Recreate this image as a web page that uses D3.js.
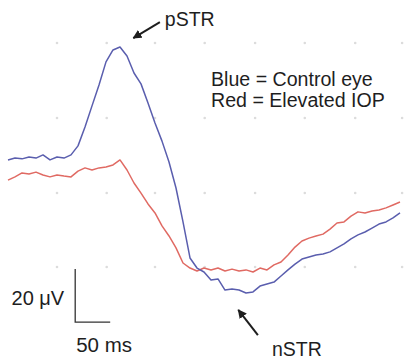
<!DOCTYPE html>
<meta charset="utf-8">
<style>
body { margin: 0; background: #fff; }
text { font-family: "Liberation Sans", Arial, sans-serif; fill: #1e1e1e; }
.trace { fill: none; stroke-width: 1.5px; stroke-linejoin: round; }
</style>
<svg width="407" height="361"></svg>
<script src="https://d3js.org/d3.v7.min.js"></script>
<script>

// time in ms, sampled every 10 ms
var times = d3.range(0, 561, 10);

// STR amplitude in microvolts
var controlEye = [3.8, 4.5, 4.2, 4.9, 4.5, 5.7, 3.8, 4.9, 4.5, 5.7,
  9.1, 16.2, 24.2, 32.1, 40.8, 45.3, 46.4, 43.0, 36.6, 32.5,
  25.3, 17.7, 10.9, 3.0, -6.8, -19.6, -33.2, -37.0, -38.5, -41.5,
  -41.1, -45.3, -44.9, -45.3, -46.4, -46.0, -43.8, -43.0, -42.3, -40.0,
  -37.7, -35.5, -33.6, -32.8, -32.1, -31.7, -30.9, -29.4, -27.9, -26.0,
  -24.5, -23.4, -21.9, -20.4, -19.6, -18.1, -16.2];

var elevatedIOP = [-3.8, -2.6, -1.1, -1.5, -0.8, -1.9, -2.6, -1.9, -2.3, -2.6,
  -0.4, 0.8, 0.0, 0.8, 1.1, 1.9, 3.8, 0.0, -4.9, -8.7,
  -12.8, -16.2, -21.1, -24.9, -29.4, -35.1, -37.0, -38.1, -37.0, -37.7,
  -37.0, -38.1, -37.4, -38.1, -37.7, -38.5, -37.0, -37.7, -35.8, -34.7,
  -32.1, -29.1, -26.8, -25.7, -24.9, -24.2, -22.3, -20.0, -19.6, -17.4,
  -15.8, -16.2, -15.5, -15.1, -14.3, -13.2, -12.1];

var legendLines = ["Blue = Control eye", "Red = Elevated IOP"];

// faint background dot grid (ms, uV)
var gridTimes = [70, 141, 210, 281, 353, 424, 496, 563];
var gridVolts = [47.9, 19.6, -8.7, -36.6];

// scale bar: 50 ms by 20 uV
var scaleBar = {t: 96, v: -57.4, dt: 50, dv: 20};

var svg = d3.select("svg");

var x = d3.scaleLinear().domain([0, 560]).range([8, 400]);
var y = d3.scaleLinear().domain([-80, 60]).range([382, 11]);

var line = d3.line()
    .x(function(d) { return x(d[0]); })
    .y(function(d) { return y(d[1]); });

// grid dots
var dots = [];
gridTimes.forEach(function(t) {
  gridVolts.forEach(function(v) { dots.push([t, v]); });
});
svg.append("g").selectAll("circle")
  .data(dots)
  .enter().append("circle")
  .attr("cx", function(d) { return x(d[0]); })
  .attr("cy", function(d) { return y(d[1]); })
  .attr("r", 1.3)
  .attr("fill", "#dcdcdc");

svg.append("path")
  .datum(d3.zip(times, elevatedIOP))
  .attr("class", "trace")
  .attr("stroke", "#e06a63")
  .attr("d", line);

svg.append("path")
  .datum(d3.zip(times, controlEye))
  .attr("class", "trace")
  .attr("stroke", "#5a5eae")
  .attr("d", line);

// legend text
svg.append("g").selectAll("text")
  .data(legendLines)
  .enter().append("text")
  .attr("x", 211)
  .attr("y", function(d, i) { return 86 + i * 21; })
  .attr("font-size", 19.6)
  .text(function(d) { return d; });

// arrows
svg.append("defs").append("marker")
  .attr("id", "head")
  .attr("viewBox", "0 0 10 10")
  .attr("refX", 9).attr("refY", 5)
  .attr("markerWidth", 4.5).attr("markerHeight", 4.5)
  .attr("orient", "auto")
  .append("path")
  .attr("d", "M0,0L10,5L0,10z")
  .attr("fill", "#1e1e1e");

var notes = [
  {label: "pSTR", tail: [217, 55.8], tip: [179, 49.8], text: [224, 54.3]},
  {label: "nSTR", tail: [357, -62.3], tip: [329, -52.8], text: [377, -70.2]}
];

notes.forEach(function(n) {
  svg.append("line")
    .attr("x1", x(n.tail[0])).attr("y1", y(n.tail[1]))
    .attr("x2", x(n.tip[0])).attr("y2", y(n.tip[1]))
    .attr("stroke", "#1e1e1e")
    .attr("stroke-width", 2)
    .attr("marker-end", "url(#head)");
  svg.append("text")
    .attr("x", x(n.text[0])).attr("y", y(n.text[1]))
    .attr("font-size", 19.5)
    .text(n.label);
});

// scale bar
var sb = svg.append("g");
sb.append("path")
  .attr("d", "M" + x(scaleBar.t) + "," + y(scaleBar.v + scaleBar.dv) +
    "V" + y(scaleBar.v) + "H" + x(scaleBar.t + scaleBar.dt))
  .attr("fill", "none")
  .attr("stroke", "#333")
  .attr("stroke-width", 1.3);
sb.append("text")
  .attr("x", x(scaleBar.t) - 11)
  .attr("y", y(scaleBar.v + scaleBar.dv / 2) + 9)
  .attr("text-anchor", "end")
  .attr("font-size", 20)
  .text("20 \u03bcV");
sb.append("text")
  .attr("x", x(scaleBar.t) + 1)
  .attr("y", y(scaleBar.v) + 30)
  .attr("font-size", 20.5)
  .text("50 ms");

</script>
